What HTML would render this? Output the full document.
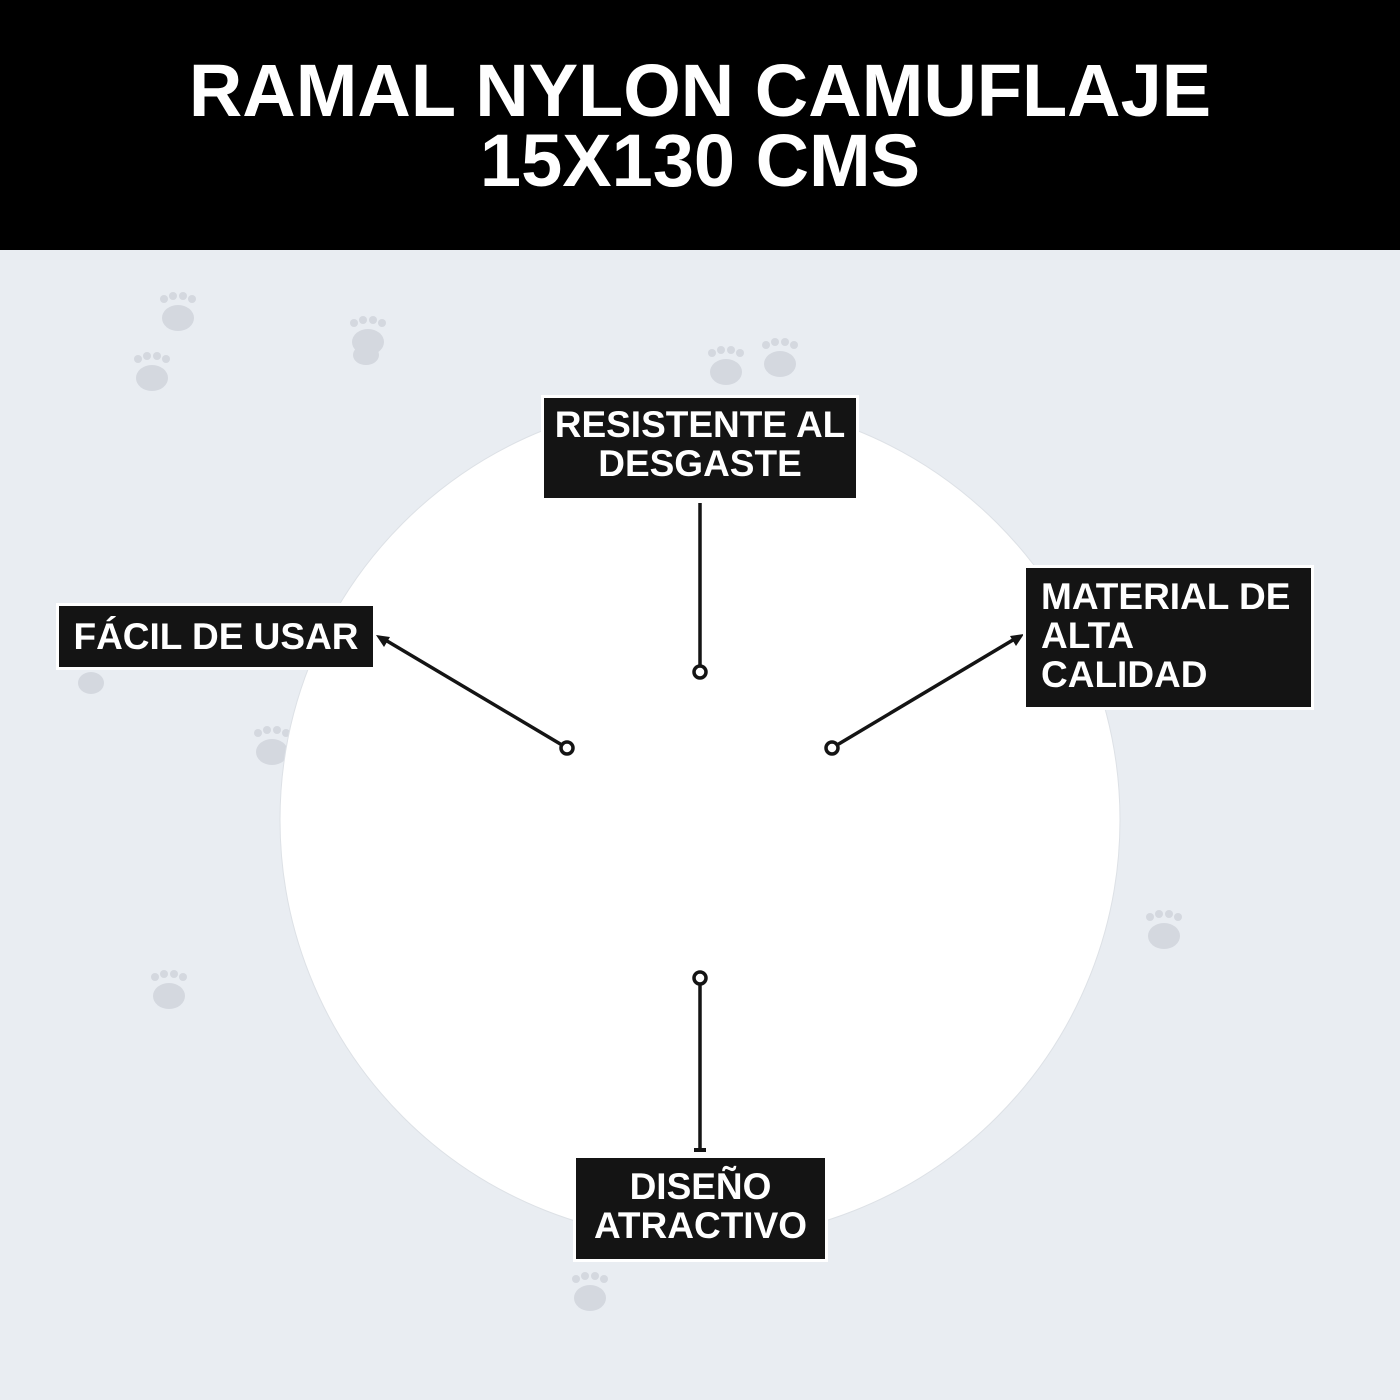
<!DOCTYPE html>
<html><head><meta charset="utf-8"><style>
body{margin:0;width:1400px;height:1400px;background:#e9edf2;position:relative;overflow:hidden;font-family:"Liberation Sans",sans-serif;font-weight:bold}
.hdr{position:absolute;left:0;top:0;width:1400px;height:250px;background:#000;color:#fff;text-align:center;font-size:74px;line-height:70px;padding-top:56px;box-sizing:border-box}
.box{position:absolute;background:#141414;color:#fff;border:3px solid #fff;box-sizing:border-box;font-size:37px;line-height:39px;white-space:nowrap}
</style></head><body>
<div class="hdr">RAMAL NYLON CAMUFLAJE<br>15X130 CMS</div>
<svg width="1400" height="1400" style="position:absolute;left:0;top:0">
<g fill="#d4d8df">
<g transform="translate(178,318)"><ellipse cx="0" cy="0" rx="16" ry="13"/><circle cx="-14" cy="-19" r="4"/><circle cx="-5" cy="-22" r="4"/><circle cx="5" cy="-22" r="4"/><circle cx="14" cy="-19" r="4"/></g>
<g transform="translate(152,378)"><ellipse rx="16" ry="13"/><circle cx="-14" cy="-19" r="4"/><circle cx="-5" cy="-22" r="4"/><circle cx="5" cy="-22" r="4"/><circle cx="14" cy="-19" r="4"/></g>
<g transform="translate(368,342)"><ellipse rx="16" ry="13"/><circle cx="-14" cy="-19" r="4"/><circle cx="-5" cy="-22" r="4"/><circle cx="5" cy="-22" r="4"/><circle cx="14" cy="-19" r="4"/></g>
<g transform="translate(366,355)"><ellipse rx="13" ry="10"/></g>
<g transform="translate(726,372)"><ellipse rx="16" ry="13"/><circle cx="-14" cy="-19" r="4"/><circle cx="-5" cy="-22" r="4"/><circle cx="5" cy="-22" r="4"/><circle cx="14" cy="-19" r="4"/></g>
<g transform="translate(780,364)"><ellipse rx="16" ry="13"/><circle cx="-14" cy="-19" r="4"/><circle cx="-5" cy="-22" r="4"/><circle cx="5" cy="-22" r="4"/><circle cx="14" cy="-19" r="4"/></g>
<g transform="translate(91,683)"><ellipse rx="13" ry="11"/></g>
<g transform="translate(272,752)"><ellipse rx="16" ry="13"/><circle cx="-14" cy="-19" r="4"/><circle cx="-5" cy="-22" r="4"/><circle cx="5" cy="-22" r="4"/><circle cx="14" cy="-19" r="4"/></g>
<g transform="translate(1164,936)"><ellipse rx="16" ry="13"/><circle cx="-14" cy="-19" r="4"/><circle cx="-5" cy="-22" r="4"/><circle cx="5" cy="-22" r="4"/><circle cx="14" cy="-19" r="4"/></g>
<g transform="translate(169,996)"><ellipse rx="16" ry="13"/><circle cx="-14" cy="-19" r="4"/><circle cx="-5" cy="-22" r="4"/><circle cx="5" cy="-22" r="4"/><circle cx="14" cy="-19" r="4"/></g>
<g transform="translate(590,1298)"><ellipse rx="16" ry="13"/><circle cx="-14" cy="-19" r="4"/><circle cx="-5" cy="-22" r="4"/><circle cx="5" cy="-22" r="4"/><circle cx="14" cy="-19" r="4"/></g>
</g>
<circle cx="700" cy="820" r="420" fill="#fff" stroke="#dde1e6" stroke-width="1"/>
<g stroke="#141414" stroke-width="3.5" fill="none">
<line x1="700" y1="503" x2="700" y2="666"/><circle cx="700" cy="672" r="6"/>
<line x1="562" y1="745" x2="382" y2="638"/><circle cx="567" cy="748" r="6"/>
<line x1="837" y1="745" x2="1018" y2="637"/><circle cx="832" cy="748" r="6"/>
<line x1="700" y1="984" x2="700" y2="1152"/><circle cx="700" cy="978" r="6"/>
</g>
<g fill="#141414">
<polygon points="376,635 390,637 384,647"/>
<polygon points="1024,634 1010,636 1016,646"/>
<rect x="694" y="1148" width="12" height="4"/>
</g>
</svg>
<div class="box" style="left:541px;top:395px;width:318px;height:106px;text-align:center;padding-top:7px">RESISTENTE AL<br>DESGASTE</div>
<div class="box" style="left:56px;top:603px;width:320px;height:67px;text-align:center;padding-top:11px">FÁCIL DE USAR</div>
<div class="box" style="left:1023px;top:565px;width:291px;height:145px;padding-left:15px;padding-top:9px">MATERIAL DE<br>ALTA<br>CALIDAD</div>
<div class="box" style="left:573px;top:1155px;width:255px;height:107px;text-align:center;padding-top:9px">DISEÑO<br>ATRACTIVO</div>
</body></html>
